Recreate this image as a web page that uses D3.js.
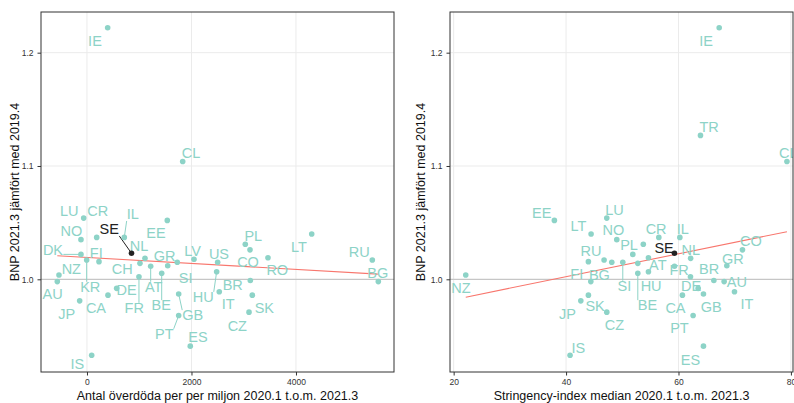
<!DOCTYPE html>
<html>
<head>
<meta charset="utf-8">
<script src="https://cdn.jsdelivr.net/npm/d3@7"></script>
<style>
  html, body { margin: 0; padding: 0; background: #fff; }
  svg { display: block; font-family: "Liberation Sans", Arial, Helvetica, sans-serif; }
</style>
</head>
<body>
<svg id="chart" width="794" height="403"></svg>
<script>
// Country codes
const countries = ["IE","CL","TR","LU","CR","NO","IL","SE","EE","DK","FI","KR","NL","CH","AT","GR","SI","BE","FR","NZ","AU","DE","CA","JP","GB","PT","ES","IS","LV","US","HU","PL","CO","RO","LT","RU","BG","BR","IT","SK","CZ"];

// GDP 2021Q3 relative to 2019Q4
const gdpRatio = [1.222,1.104,1.127,1.054,1.037,1.035,1.037,1.023,1.052,1.022,1.0156,1.017,1.0185,1.0141,1.0115,1.012,1.015,1.0053,1.0023,1.0038,0.998,0.992,0.986,0.981,0.987,0.968,0.941,0.933,1.0177,1.015,1.0067,1.031,1.026,1.019,1.040,1.017,0.998,0.999,0.989,0.986,0.971];

// Excess deaths per million, 2020Q1 - 2021Q3 (null = no data)
const excessDeaths = [396,1832,null,-63,186,-115,714,852,1537,-115,230,-6,1110,1014,1219,1545,1728,1430,995,-536,-568,568,402,-140,1755,1755,1977,90,2048,2501,2482,3030,3120,3464,4301,5461,5576,3126,2532,3164,3101];

// Median stringency index, 2020Q1 - 2021Q3 (null = no data)
const stringency = [67.24,79.29,63.91,47.24,56.5,49.02,60.24,59.28,37.92,51.87,43.97,null,62.16,52.76,59.28,68.6,50.09,52.76,62.13,22.15,68.12,63.5,60.7,42.62,64.44,62.6,64.44,40.71,null,48.13,54.65,53.74,71.38,54.65,44.45,46.76,44.4,66.29,69.96,43.97,47.24];

// Label anchor positions (data units) for the excess-death panel
const deathLabelX = [153,1991,null,-339,205,-300,875,427,1321,-651,178,63,995,676,1277,1487,1889,1422,905,-300,-657,760,172,-389,2023,1480,2125,-186,2023,2526,2226,3183,3082,3642,4058,5212,5564,2789,2704,3394,2877];
const deathLabelY = [1.2106,1.1117,null,1.0605,1.0605,1.0426,1.0576,1.0444,1.0411,1.0259,1.0235,0.9935,1.0294,1.0097,0.9935,1.0206,1.0014,0.9773,0.9749,1.0097,0.9868,0.9912,0.9753,0.970,0.9685,0.952,0.9491,0.9252,1.0252,1.0223,0.9846,1.0385,1.0153,1.0082,1.0288,1.0247,1.0062,0.995,0.9782,0.9753,0.9594];

// Label anchor positions (data units) for the stringency panel
const strLabelX = [64.92,79.52,65.45,48.6,56.02,48.42,60.77,57.44,35.67,null,41.9,null,62.2,null,56.32,69.67,50.38,54.47,60.11,21.31,70.38,62.25,59.46,40.23,65.81,60.17,62.13,42.19,null,null,55.13,51.21,72.88,null,42.19,44.45,45.93,65.45,72.16,45.16,48.6];
const strLabelY = [1.2106,1.1117,1.1347,1.0612,1.045,1.0435,1.045,1.0282,1.0591,null,1.0053,null,1.0265,null,1.0126,1.0179,0.9944,0.9773,1.0082,0.9929,0.9974,0.9944,0.9753,0.9694,0.9758,0.9568,0.9294,0.940,null,null,0.9944,1.0303,1.0338,null,1.0473,1.025,1.0038,1.0097,0.9782,0.9767,0.9597];

// Labels joined to their point by a leader segment
const deathLeaders = ["SE","IL","DK","KR","AT","BE","FR","HU","GB","PT"];
const strLeaders = ["SI","BE"];

const highlight = "SE";

const deathTicks = [0, 2000, 4000];
const strTicks = [20, 40, 60, 80];
const gdpTicks = [1.0, 1.1, 1.2];

const yTitle = "BNP 2021.3 jämfört med 2019.4";
const deathTitle = "Antal överdöda per per miljon 2020.1 t.o.m. 2021.3";
const strTitle = "Stringency-index median 2020.1 t.o.m. 2021.3";

const teal = "#8dd3c7";
const dark = "#222222";
const fitColor = "#f8766d";

const svg = d3.select("#chart");
svg.append("rect").attr("width", 794).attr("height", 403).attr("fill", "#fff");

function drawPanel(cfg) {
  const { left, right, top, bottom, xDomain, xTicks, xs, lx, ly, leaders, xTitle, yTitleX } = cfg;
  const x = d3.scaleLinear().domain(xDomain).range([left, right]);
  const y = d3.scaleLinear().domain([0.9182, 1.2359]).range([bottom, top]);
  const g = svg.append("g");

  const clipId = "clip" + Math.round(left);
  svg.append("clipPath").attr("id", clipId)
    .append("rect").attr("x", left).attr("y", top).attr("width", right - left).attr("height", bottom - top);

  // grid
  const grid = g.append("g").attr("clip-path", `url(#${clipId})`);
  grid.selectAll("line.vx").data(xTicks).join("line")
    .attr("x1", d => x(d)).attr("x2", d => x(d)).attr("y1", top).attr("y2", bottom)
    .attr("stroke", "#ebebeb").attr("stroke-width", 1);
  grid.selectAll("line.hy").data(gdpTicks.filter(d => d !== 1.0)).join("line")
    .attr("x1", left).attr("x2", right).attr("y1", d => y(d)).attr("y2", d => y(d))
    .attr("stroke", "#ebebeb").attr("stroke-width", 1);
  // reference line at 1
  grid.append("line").attr("x1", left).attr("x2", right).attr("y1", y(1)).attr("y2", y(1))
    .attr("stroke", "#c6c6c6").attr("stroke-width", 1.3);

  // data rows
  const rows = countries.map((c, i) => ({ c, xv: xs[i], yv: gdpRatio[i], lx: lx[i], ly: ly[i] }))
    .filter(d => d.xv !== null);

  // least-squares fit
  const mx = d3.mean(rows, d => d.xv), my = d3.mean(rows, d => d.yv);
  const sxy = d3.sum(rows, d => (d.xv - mx) * (d.yv - my));
  const sxx = d3.sum(rows, d => (d.xv - mx) ** 2);
  const slope = sxy / sxx, icpt = my - slope * mx;
  const [x0, x1] = d3.extent(rows, d => d.xv);
  const plot = g.append("g").attr("clip-path", `url(#${clipId})`);
  plot.append("line")
    .attr("x1", x(x0)).attr("y1", y(icpt + slope * x0))
    .attr("x2", x(x1)).attr("y2", y(icpt + slope * x1))
    .attr("stroke", fitColor).attr("stroke-width", 1.1);

  // labels first to get their boxes for leaders
  const labG = plot.append("g");
  const segG = plot.append("g");
  const ptG = plot.append("g");
  rows.filter(d => d.lx !== null).forEach(d => {
    const col = d.c === highlight ? dark : teal;
    const t = labG.append("text")
      .attr("x", x(d.lx)).attr("y", y(d.ly)).attr("dy", "0.36em")
      .attr("text-anchor", "middle").attr("font-size", 14.5)
      .attr("fill", col).text(d.c);
    if (leaders.includes(d.c)) {
      const b = t.node().getBBox();
      const px = x(d.xv), py = y(d.yv);
      const bx0 = b.x, bx1 = b.x + b.width, by0 = b.y + b.height * 0.18, by1 = b.y + b.height * 0.92;
      const cx = Math.max(bx0, Math.min(px, bx1));
      const cy = Math.max(by0, Math.min(py, by1));
      segG.append("line").attr("x1", cx).attr("y1", cy).attr("x2", px).attr("y2", py)
        .attr("stroke", col).attr("stroke-width", 1);
    }
  });
  ptG.selectAll("circle").data(rows).join("circle")
    .attr("cx", d => x(d.xv)).attr("cy", d => y(d.yv)).attr("r", 2.8)
    .attr("fill", d => d.c === highlight ? dark : teal);

  // border
  g.append("rect").attr("x", left).attr("y", top).attr("width", right - left).attr("height", bottom - top)
    .attr("fill", "none").attr("stroke", "#333").attr("stroke-width", 1);

  // axes
  const xAxis = d3.axisBottom(x).tickValues(xTicks).tickSize(3.5).tickPadding(3).tickFormat(d3.format("d"));
  const ax = g.append("g").attr("transform", `translate(0,${bottom})`).call(xAxis);
  const yAxis = d3.axisLeft(y).tickValues(gdpTicks).tickSize(3.5).tickPadding(4).tickFormat(d3.format(".1f"));
  const ay = g.append("g").attr("transform", `translate(${left},0)`).call(yAxis);
  [ax, ay].forEach(a => {
    a.select(".domain").remove();
    a.selectAll(".tick line").attr("stroke", "#333");
    a.selectAll(".tick text").attr("fill", "#333").attr("font-size", 8.5)
      .attr("font-family", "'Liberation Sans', Arial, sans-serif");
  });

  // titles
  g.append("text").attr("x", (left + right) / 2).attr("y", 400)
    .attr("text-anchor", "middle").attr("font-size", 12.5).attr("fill", "#111").text(xTitle);
  g.append("text").attr("transform", `translate(${yTitleX},${(top + bottom) / 2}) rotate(-90)`)
    .attr("text-anchor", "middle").attr("dy", "0.35em").attr("font-size", 12.5).attr("fill", "#111").text(yTitle);
}

drawPanel({
  left: 41, right: 394, top: 12, bottom: 372,
  xDomain: [-880, 5876], xTicks: deathTicks, xs: excessDeaths,
  lx: deathLabelX, ly: deathLabelY, leaders: deathLeaders,
  xTitle: deathTitle, yTitleX: 15
});
drawPanel({
  left: 450, right: 793, top: 12, bottom: 372,
  xDomain: [19.35, 80.37], xTicks: strTicks, xs: stringency,
  lx: strLabelX, ly: strLabelY, leaders: strLeaders,
  xTitle: strTitle, yTitleX: 421
});
</script>
</body>
</html>
